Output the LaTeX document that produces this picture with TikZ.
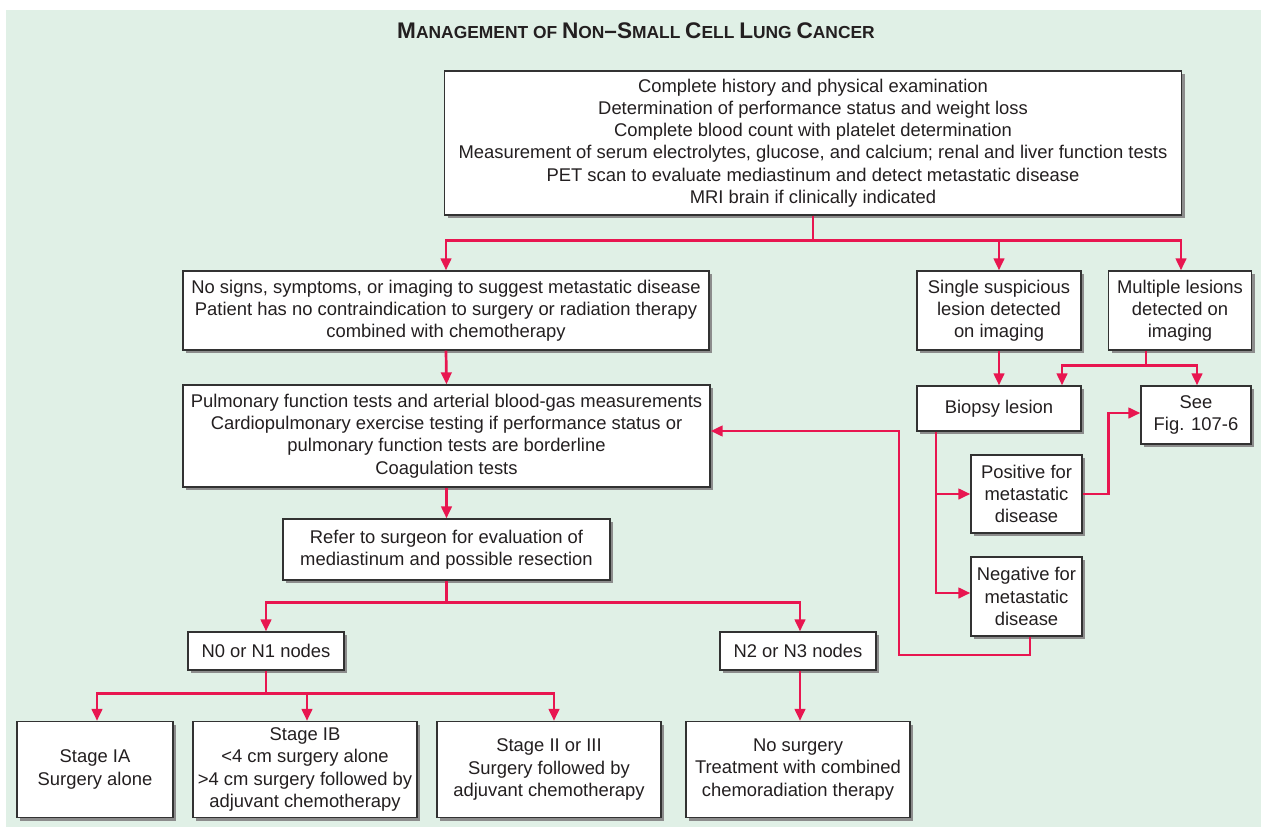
\documentclass[tikz,border=0pt]{standalone}
\usepackage{fontspec}
\setmainfont{Liberation Sans}
\usetikzlibrary{arrows.meta,shadows}
\definecolor{bg}{RGB}{224,240,230}
\definecolor{lnred}{RGB}{232,22,80}
\definecolor{txt}{RGB}{35,31,32}
\definecolor{bord}{RGB}{50,50,50}
\newcommand{\BC}[1]{{\fontsize{22.6}{26}\selectfont #1}}
\newcommand{\SC}[1]{{\fontsize{17.4}{26}\selectfont #1}}
\begin{document}
\begin{tikzpicture}[x=1pt,y=-1pt,
  fbox/.style={draw=bord,fill=white,line width=1.3pt,align=center,inner sep=0pt,
    text=txt,font=\fontsize{18.4}{22.2}\selectfont,
    drop shadow={shadow xshift=3pt,shadow yshift=-3pt,fill=black!45,opacity=1}},
  arr/.style={draw=lnred,line width=2.7pt,-{Triangle[length=12pt,width=10.5pt]}},
  ln/.style={draw=lnred,line width=2.7pt}]
\useasboundingbox (0,0) rectangle (1261,827);
\fill[bg] (6,10) rectangle (1261,827);
\node[text=txt,font=\bfseries\fontsize{17.4}{26}\selectfont] (title) at (636,31) {\BC{M}\SC{ANAGEMENT OF} \BC{N}\SC{ON}\BC{–S}\SC{MALL} \BC{C}\SC{ELL} \BC{L}\SC{UNG} \BC{C}\SC{ANCER}};
\node[fbox,minimum width=737pt,minimum height=144pt] (A) at (813,143) {Complete history and physical examination\\Determination of performance status and weight loss\\Complete blood count with platelet determination\\Measurement of serum electrolytes, glucose, and calcium; renal and liver function tests\\PET scan to evaluate mediastinum and detect metastatic disease\\MRI brain if clinically indicated};
\node[fbox,minimum width=526pt,minimum height=79pt] (B) at (446,310.5) {No signs, symptoms, or imaging to suggest metastatic disease\\Patient has no contraindication to surgery or radiation therapy\\combined with chemotherapy};
\node[fbox,minimum width=164pt,minimum height=79pt] (C) at (999,310.5) {Single suspicious\\lesion detected\\on imaging};
\node[fbox,minimum width=143pt,minimum height=79pt] (D) at (1180,310.5) {Multiple lesions\\detected on\\imaging};
\node[fbox,minimum width=527pt,minimum height=102pt] (E) at (446.5,436) {Pulmonary function tests and arterial blood-gas measurements\\Cardiopulmonary exercise testing if performance status or\\pulmonary function tests are borderline\\Coagulation tests};
\node[fbox,minimum width=327pt,minimum height=61pt] (F) at (446.5,549.5) {Refer to surgeon for evaluation of\\mediastinum and possible resection};
\node[fbox,minimum width=164pt,minimum height=45pt] (G) at (999,408.5) {Biopsy lesion};
\node[fbox,minimum width=110pt,minimum height=58pt] (H) at (1196,415) {See\\Fig. 107-6};
\node[fbox,minimum width=111pt,minimum height=78pt] (P) at (1026.5,494) {Positive for\\metastatic\\disease};
\node[fbox,minimum width=111pt,minimum height=79pt] (Q) at (1026.5,596.5) {Negative for\\metastatic\\disease};
\node[fbox,minimum width=156pt,minimum height=38pt] (N0) at (266,651) {N0 or N1 nodes};
\node[fbox,minimum width=156pt,minimum height=38pt] (N2) at (798,651) {N2 or N3 nodes};
\node[fbox,minimum width=156pt,minimum height=96pt] (S1) at (95,769.5) {Stage IA\\Surgery alone};
\node[fbox,minimum width=224pt,minimum height=96pt] (S2) at (305,769.5) {Stage IB\\<4 cm surgery alone\\>4 cm surgery followed by\\adjuvant chemotherapy};
\node[fbox,minimum width=224pt,minimum height=96pt] (S3) at (549,769.5) {Stage II or III\\Surgery followed by\\adjuvant chemotherapy};
\node[fbox,minimum width=224pt,minimum height=96pt] (S4) at (798,769.5) {No surgery\\Treatment with combined\\chemoradiation therapy};
\coordinate (qturn) at (899,655);
% connectors
\draw[arr] (A.south) -- ++(0,25) -| (B.north);
\draw[arr] (A.south) -- ++(0,25) -| (C.north);
\draw[arr] (A.south) -- ++(0,25) -| ([xshift=1pt]D.north);
\draw[arr] (C.south) -- (G.north);
\draw[arr] ([xshift=-34pt]D.south) -- ++(0,15) -| ([xshift=63pt]G.north);
\draw[arr] ([xshift=-34pt]D.south) -- ++(0,15) -| ([xshift=1pt]H.north);
\draw[arr] ([xshift=-63pt]G.south) |- (P.west);
\draw[arr] ([xshift=-63pt]G.south) |- ([yshift=3.5pt]Q.west);
\draw[arr] (P.east) -- ++(26,0) |- ([yshift=2pt]H.west);
\draw[arr] ([xshift=3.5pt]Q.south) |- (qturn) |- ([yshift=5pt]E.east);
\draw[arr] (B.south) -- (E.north);
\draw[arr] (E.south) -- (F.north);
\draw[arr] (F.south) -- ++(0,22) -| (N0.north);
\draw[arr] (F.south) -- ++(0,22) -| ([xshift=2pt]N2.north);
\draw[arr] (N0.south) -- ++(0,23) -| ([xshift=2pt]S1.north);
\draw[arr] (N0.south) -- ++(0,23) -| ([xshift=2pt]S2.north);
\draw[arr] (N0.south) -- ++(0,23) -| ([xshift=5pt]S3.north);
\draw[arr] ([xshift=2pt]N2.south) -- ([xshift=2pt]S4.north);
\end{tikzpicture}
\end{document}
